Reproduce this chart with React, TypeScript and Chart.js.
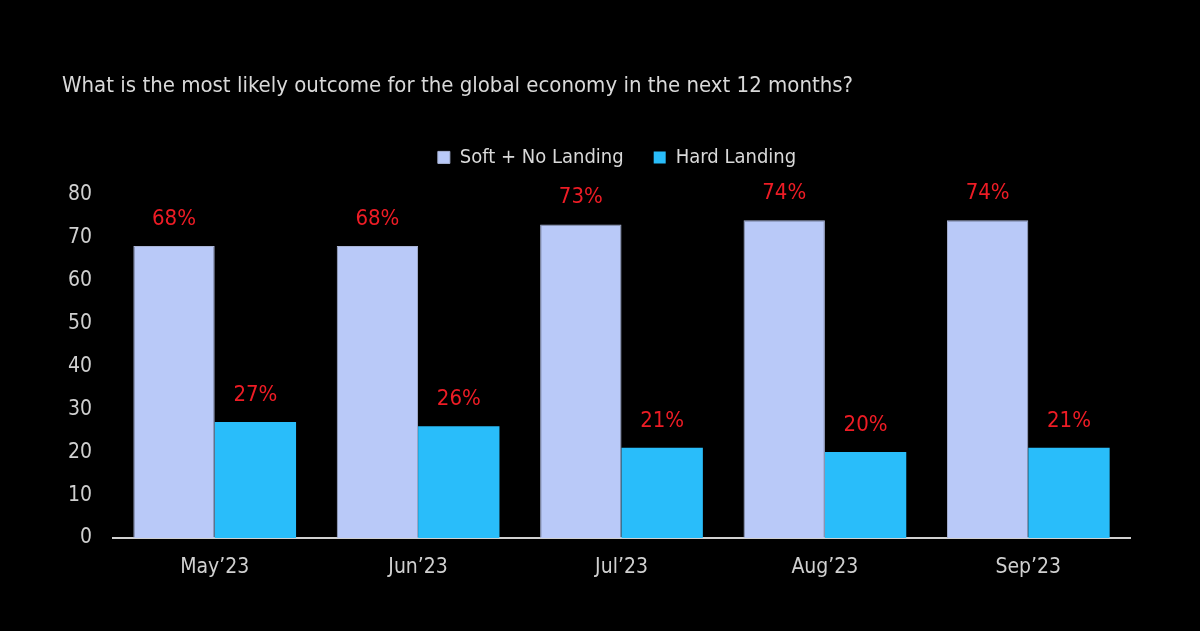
import { useEffect, useRef } from 'react';
import { Chart, registerables } from 'chart.js';

Chart.register(...registerables);

const months = ["May’23", "Jun’23", "Jul’23", "Aug’23", "Sep’23"];
const softNoLanding = [68, 68, 73, 74, 74];
const hardLanding = [27, 26, 21, 20, 21];
const yTicks = [0, 10, 20, 30, 40, 50, 60, 70, 80];

const FONT = "'DejaVu Sans Condensed', 'Liberation Sans Narrow', sans-serif";

// red percent labels over each bar
const barLabels = {
    id: 'barLabels',
    afterDatasetsDraw(chart: Chart) {
        const ctx = chart.ctx;
        ctx.save();
        ctx.fillStyle = '#ee1c25';
        ctx.font = `22px ${FONT}`;
        ctx.textAlign = 'center';
        ctx.textBaseline = 'middle';
        chart.data.datasets.forEach((ds, i) => {
            chart.getDatasetMeta(i).data.forEach((bar: any, j) => {
                ctx.fillText(`${ds.data[j]}%`, bar.x, bar.y - 27);
            });
        });
        ctx.restore();
    },
};

// fixed legend block height so the plot starts where the original does,
// and nudge the legend so it centres over the plot rather than the canvas
const legendGap = {
    id: 'legendGap',
    beforeInit(chart: any) {
        const fit = chart.legend.fit;
        chart.legend.fit = function () {
            fit.bind(chart.legend)();
            this.height = 77;
        };
    },
    afterLayout(chart: any) {
        chart.legend.left += 21;
        chart.legend.right += 21;
    },
};

export default function App() {
    const chartRef = useRef<HTMLCanvasElement>(null);
    const chartInstance = useRef<Chart | null>(null);

    useEffect(() => {
        document.body.style.margin = '0';
        if (chartRef.current) {
            if (chartInstance.current) {
                chartInstance.current.destroy();
            }
            chartInstance.current = new Chart(chartRef.current, {
                type: 'bar',
                data: {
                    labels: months,
                    datasets: [
                        {
                            label: 'Soft + No Landing',
                            data: softNoLanding,
                            backgroundColor: '#b9c9f8',
                            borderColor: '#a9b4d6',
                            borderWidth: 1,
                            categoryPercentage: 0.8,
                            barPercentage: 1.0,
                        },
                        {
                            label: 'Hard Landing',
                            data: hardLanding,
                            backgroundColor: '#29bdfa',
                            categoryPercentage: 0.8,
                            barPercentage: 1.0,
                        },
                    ],
                },
                options: {
                    animation: false,
                    responsive: false,
                    layout: { padding: { top: 73, left: 62, right: 70, bottom: 40 } },
                    plugins: {
                        title: {
                            display: true,
                            text: 'What is the most likely outcome for the global economy in the next 12 months?',
                            align: 'start',
                            color: '#d9d9d9',
                            font: { family: FONT, size: 22, weight: 'normal' },
                            padding: { top: 0, bottom: 18 },
                        },
                        legend: {
                            labels: {
                                color: '#d9d9d9',
                                font: { family: FONT, size: 20 },
                                boxWidth: 12,
                                boxHeight: 12,
                                padding: 30,
                            },
                        },
                        tooltip: { enabled: false },
                    },
                    scales: {
                        x: {
                            afterFit(axis) {
                                axis.height = 53;
                            },
                            grid: { display: false, drawTicks: false },
                            border: { display: true, color: '#d0d0d0', width: 2 },
                            ticks: {
                                color: '#d0d0d0',
                                font: { family: FONT, size: 21 },
                                padding: 17,
                            },
                        },
                        y: {
                            min: 0,
                            max: 80,
                            afterBuildTicks(axis) {
                                axis.ticks = yTicks.map((v) => ({ value: v }));
                            },
                            afterFit(axis) {
                                axis.width = 51;
                            },
                            grid: { display: false, drawTicks: false },
                            border: { display: false },
                            ticks: {
                                color: '#d0d0d0',
                                font: { family: FONT, size: 21 },
                                padding: 21,
                            },
                        },
                    },
                },
                plugins: [barLabels, legendGap],
            });
        }
        return () => {
            if (chartInstance.current) {
                chartInstance.current.destroy();
            }
        };
    }, []);

    return (
        <div style={{ width: 1200, height: 631, background: '#000' }}>
            <canvas ref={chartRef} width={1200} height={631} style={{ width: 1200, height: 631, display: 'block' }} />
        </div>
    );
}
